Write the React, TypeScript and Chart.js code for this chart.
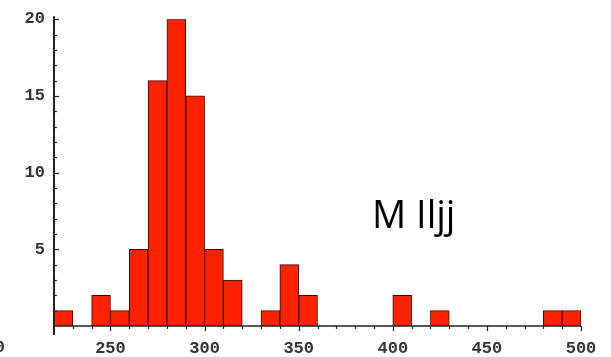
import React, { useEffect, useRef } from "react";
import { Chart, registerables } from "chart.js";

Chart.register(...registerables);

// Histogram bins (centre of each 10-wide bin) and counts
const binCenters = [225, 235, 245, 255, 265, 275, 285, 295, 305, 315, 325, 335, 345, 355, 365, 375, 385, 395, 405, 415, 425, 435, 445, 455, 465, 475, 485, 495];
const counts = [1, 0, 2, 1, 5, 16, 20, 15, 5, 3, 0, 1, 4, 2, 0, 0, 0, 0, 2, 0, 1, 0, 0, 0, 0, 0, 1, 1];
const xTickValues = [250, 300, 350, 400, 450, 500];
const yTickValues = [5, 10, 15, 20];
const xMin = 220;
const xMax = 500;
const yMax = 20;
const overlayText = "M Iljj";
const strayLabel = "0";

const W = 611;
const H = 357;
const TICK_FONT = { family: "'Liberation Mono', monospace", size: 17, weight: "bold" as const };

const axesPlugin = {
  id: "mathAxes",
  afterDatasetsDraw(chart: any) {
    const ctx = chart.ctx;
    const xs = chart.scales.x;
    const ys = chart.scales.y;
    const x0 = Math.round(xs.getPixelForValue(xMin));
    const y0 = Math.round(ys.getPixelForValue(0));
    ctx.save();
    ctx.strokeStyle = "#222";
    // y axis line
    ctx.lineWidth = 2;
    ctx.beginPath();
    ctx.moveTo(x0, ys.getPixelForValue(yMax) - 3);
    ctx.lineTo(x0, y0 + 9);
    ctx.stroke();
    // x axis line
    ctx.lineWidth = 1.5;
    ctx.beginPath();
    ctx.moveTo(x0, y0);
    ctx.lineTo(xs.getPixelForValue(xMax), y0);
    ctx.stroke();
    // y ticks (inside, to the right)
    ctx.lineWidth = 1.2;
    for (let v = 1; v <= yMax; v++) {
      const y = Math.round(ys.getPixelForValue(v)) + 0.5;
      const len = v % 5 === 0 ? 5 : 3;
      ctx.beginPath();
      ctx.moveTo(x0, y);
      ctx.lineTo(x0 + len, y);
      ctx.stroke();
    }
    // x ticks (below baseline)
    for (let v = xMin + 10; v <= xMax; v += 10) {
      const x = Math.round(xs.getPixelForValue(v)) + 0.5;
      const len = v % 50 === 0 ? 5 : 3;
      ctx.beginPath();
      ctx.moveTo(x, y0);
      ctx.lineTo(x, y0 + len);
      ctx.stroke();
    }
    // stray label at bottom-left
    ctx.fillStyle = "#333";
    ctx.font = `bold ${TICK_FONT.size}px ${TICK_FONT.family}`;
    ctx.textAlign = "right";
    ctx.textBaseline = "alphabetic";
    ctx.fillText(strayLabel, 5, 352);
    // overlay text
    ctx.fillStyle = "#000";
    ctx.font = "38px 'Open Sans', sans-serif";
    ctx.textAlign = "left";
    ctx.fillText(overlayText, 372, 228);
    ctx.restore();
  },
};

export default function App() {
  const ref = useRef<HTMLCanvasElement | null>(null);
  useEffect(() => {
    if (!ref.current) return;
    const chart = new Chart(ref.current, {
      type: "bar",
      data: {
        datasets: [
          {
            data: binCenters.map((c, i) => ({ x: c, y: counts[i] })),
            backgroundColor: "#ff2200",
            borderColor: "#3a0a00",
            borderWidth: 1,
            barPercentage: 1,
            categoryPercentage: 1,
            borderSkipped: "start",
          },
        ],
      },
      options: {
        responsive: false,
        animation: false,
        events: [],
        layout: { padding: { left: 0, top: 18, right: 30, bottom: 0 } },
        plugins: { legend: { display: false }, tooltip: { enabled: false } },
        scales: {
          x: {
            type: "linear",
            min: xMin,
            max: xMax,
            offset: false,
            grid: { display: false, drawTicks: false },
            border: { display: false },
            afterBuildTicks: (s: any) => {
              s.ticks = xTickValues.map((v) => ({ value: v }));
            },
            afterFit: (s: any) => {
              s.height = 31;
            },
            ticks: { color: "#333", font: TICK_FONT, padding: 13, maxRotation: 0, autoSkip: false },
          },
          y: {
            min: 0,
            max: yMax,
            grid: { display: false, drawTicks: false },
            border: { display: false },
            afterBuildTicks: (s: any) => {
              s.ticks = yTickValues.map((v) => ({ value: v }));
            },
            afterFit: (s: any) => {
              s.width = 54;
            },
            ticks: { color: "#333", font: TICK_FONT, padding: 9 },
          },
        },
      },
      plugins: [axesPlugin],
    });
    return () => chart.destroy();
  }, []);
  return (
    <div style={{ position: "absolute", left: 0, top: 0, width: W, height: H, background: "#fff" }}>
      <canvas ref={ref} width={W} height={H} style={{ display: "block" }} />
    </div>
  );
}
